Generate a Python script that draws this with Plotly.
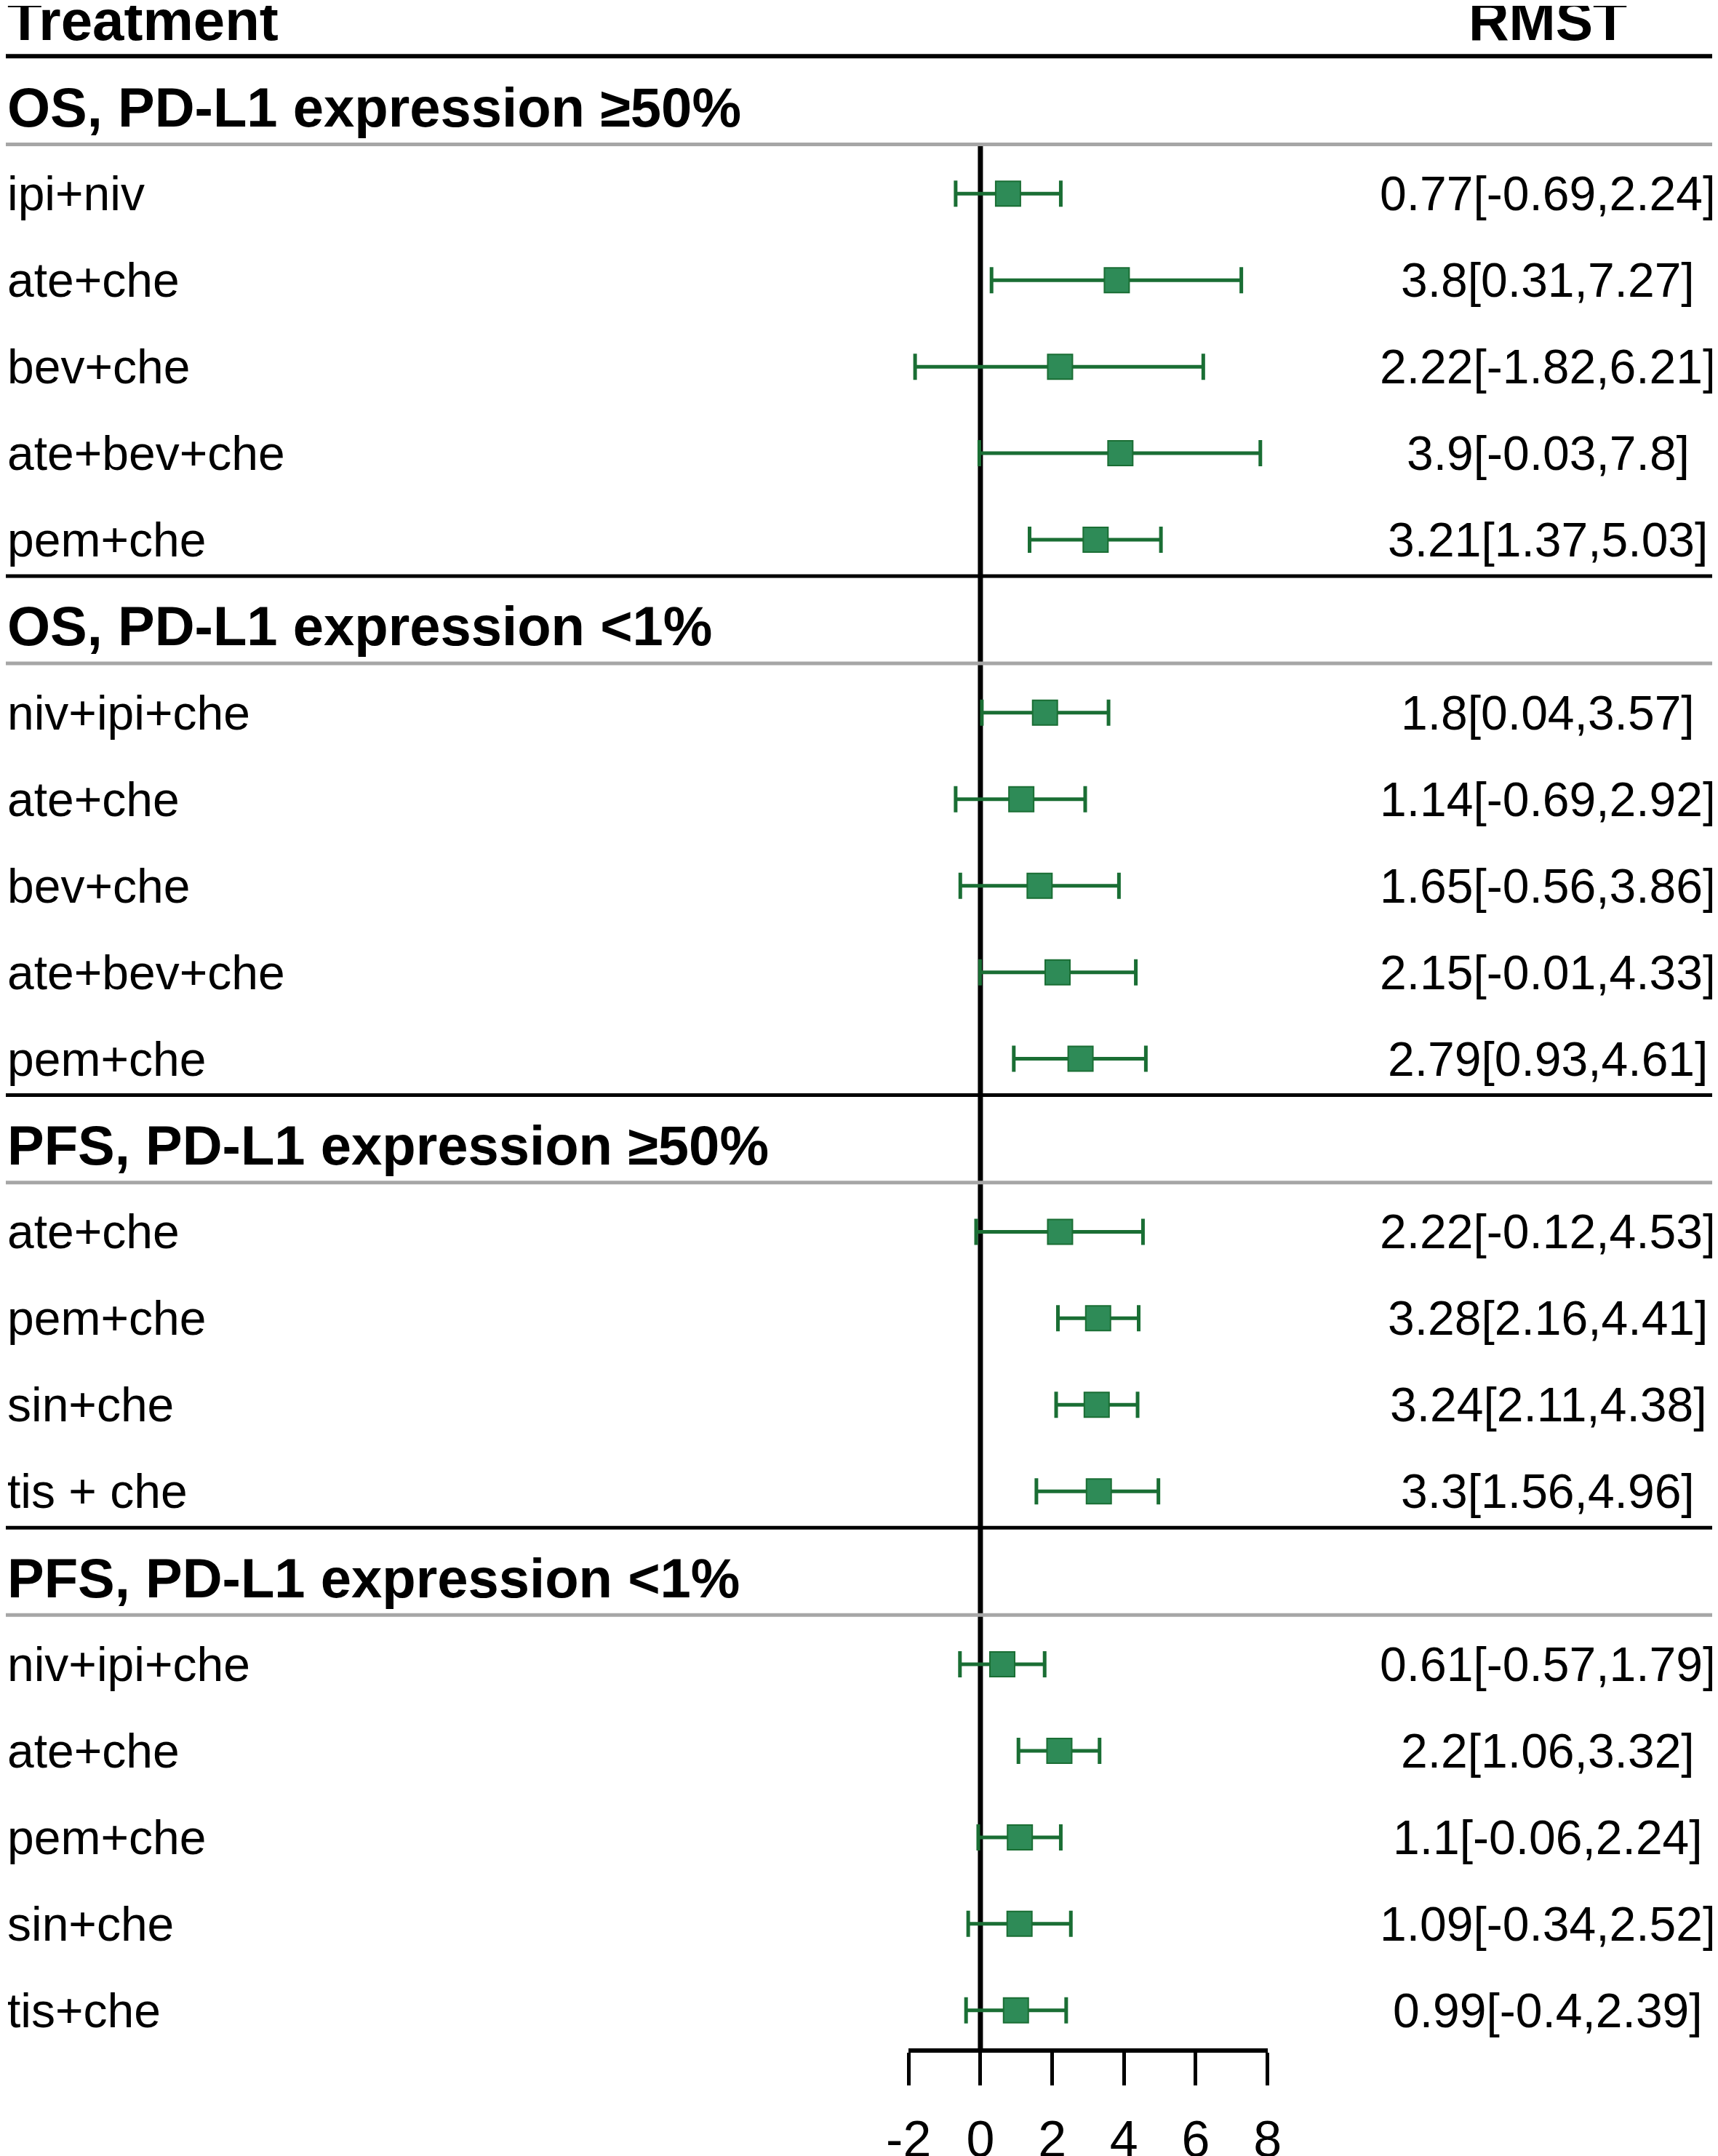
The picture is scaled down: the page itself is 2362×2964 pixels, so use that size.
import plotly.graph_objects as go

# data
groups = ["OS, PD-L1 expression ≥50%", "OS, PD-L1 expression <1%",
          "PFS, PD-L1 expression ≥50%", "PFS, PD-L1 expression <1%"]
treatments = [
    ["ipi+niv", "ate+che", "bev+che", "ate+bev+che", "pem+che"],
    ["niv+ipi+che", "ate+che", "bev+che", "ate+bev+che", "pem+che"],
    ["ate+che", "pem+che", "sin+che", "tis + che"],
    ["niv+ipi+che", "ate+che", "pem+che", "sin+che", "tis+che"],
]
rmst = [
    [0.77, 3.8, 2.22, 3.9, 3.21],
    [1.8, 1.14, 1.65, 2.15, 2.79],
    [2.22, 3.28, 3.24, 3.3],
    [0.61, 2.2, 1.1, 1.09, 0.99],
]
lower = [
    [-0.69, 0.31, -1.82, -0.03, 1.37],
    [0.04, -0.69, -0.56, -0.01, 0.93],
    [-0.12, 2.16, 2.11, 1.56],
    [-0.57, 1.06, -0.06, -0.34, -0.4],
]
upper = [
    [2.24, 7.27, 6.21, 7.8, 5.03],
    [3.57, 2.92, 3.86, 4.33, 4.61],
    [4.53, 4.41, 4.38, 4.96],
    [1.79, 3.32, 2.24, 2.52, 2.39],
]
x_ticks = [-2, 0, 2, 4, 6, 8]
x_tick_labels = ["-2", "0", "2", "4", "6", "8"]

FONT = "Liberation Sans, Arial"
GREEN = "#2e8b57"
DARK_GREEN = "#1a6e34"
LEFT_X = 0.0       # left text column (paper)
VAL_X = 0.8976     # RMST column centre (paper)

fig = go.Figure()
shapes = []
annotations = []

# header
annotations.append(dict(x=LEFT_X, y=-1, xref="paper", yref="y", text="<b>Treatment</b>",
                        showarrow=False, xanchor="left", font=dict(size=78)))
annotations.append(dict(x=VAL_X, y=-1, xref="paper", yref="y", text="<b>RMST</b>",
                        showarrow=False, xanchor="center", font=dict(size=77)))
shapes.append(dict(type="line", xref="paper", yref="y", x0=0, x1=1, y0=-0.59, y1=-0.59,
                   line=dict(color="black", width=6)))

slot = 0
ys, xs, ep, em = [], [], [], []
for g, name in enumerate(groups):
    annotations.append(dict(x=LEFT_X, y=slot, xref="paper", yref="y", text="<b>%s</b>" % name,
                            showarrow=False, xanchor="left", font=dict(size=76)))
    shapes.append(dict(type="line", xref="paper", yref="y", x0=0, x1=1,
                       y0=slot + 0.43, y1=slot + 0.43, line=dict(color="#a6a6a6", width=5)))
    for t, est, lo, hi in zip(treatments[g], rmst[g], lower[g], upper[g]):
        slot += 1
        ys.append(slot)
        xs.append(est)
        ep.append(hi - est)
        em.append(est - lo)
        annotations.append(dict(x=LEFT_X, y=slot, xref="paper", yref="y", text=t,
                                showarrow=False, xanchor="left", font=dict(size=66)))
        annotations.append(dict(x=VAL_X, y=slot, xref="paper", yref="y",
                                text="%s[%s,%s]" % (est, lo, hi),
                                showarrow=False, xanchor="center", font=dict(size=66)))
    if g < len(groups) - 1:
        shapes.append(dict(type="line", xref="paper", yref="y", x0=0, x1=1,
                           y0=slot + 0.42, y1=slot + 0.42, line=dict(color="black", width=5)))
    slot += 1
last_row = slot - 1

# zero reference line
shapes.append(dict(type="line", xref="x", yref="y", x0=0, x1=0, y0=0.43, y1=last_row + 0.44,
                   line=dict(color="black", width=7), layer="below"))

fig.add_trace(go.Scatter(
    x=xs, y=ys, mode="markers",
    marker=dict(symbol="square", size=34, color=GREEN, line=dict(color=DARK_GREEN, width=2)),
    error_x=dict(type="data", symmetric=False, array=ep, arrayminus=em,
                 color=DARK_GREEN, thickness=5, width=18),
    showlegend=False, cliponaxis=False,
))

fig.update_xaxes(domain=[0.5255, 0.7344], range=[-2, 8],
                 tickvals=x_ticks, ticktext=x_tick_labels,
                 showline=True, linecolor="black", linewidth=6, automargin=False,
                 ticks="outside", ticklen=45, tickwidth=5, tickcolor="black",
                 ticklabelstandoff=14,
                 showgrid=False, zeroline=False, tickfont=dict(size=70, color="black"))
fig.update_yaxes(domain=[0.0526, 1], range=[last_row + 0.44, -1.172], visible=False,
                 automargin=False)

fig.update_layout(width=2362, height=2964,
                  margin=dict(l=0, r=0, t=0, b=0, pad=0, autoexpand=False),
                  plot_bgcolor="white", paper_bgcolor="white",
                  font=dict(family=FONT, color="black"),
                  shapes=shapes, annotations=annotations)

fig.write_html("out.html")
